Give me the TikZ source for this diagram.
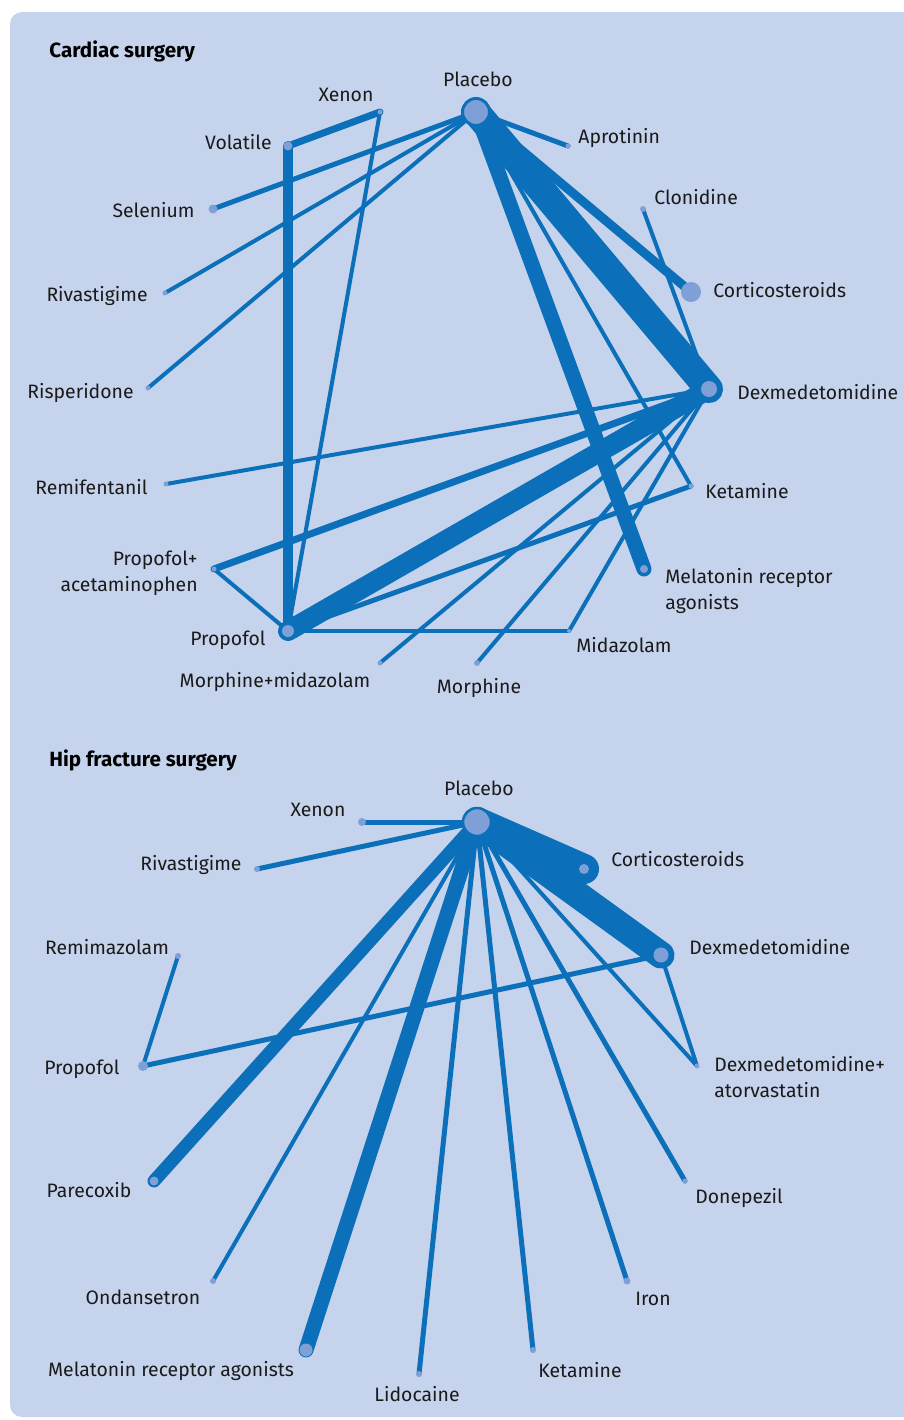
\documentclass[tikz,border=0pt]{standalone}
\usepackage{fontspec}
\setmainfont{Fira Sans}
\definecolor{bgblue}{HTML}{C6D3EC}
\definecolor{lineblue}{HTML}{0B70B9}
\definecolor{nodeblue}{HTML}{7FA0D6}
\definecolor{txt}{HTML}{1A1A1A}
\begin{document}
\begin{tikzpicture}[x=0.5pt,y=-0.5pt,
  lnk/.style={draw=lineblue,line cap=round,line width=#1*0.5pt},
  dot/.style={circle,fill=nodeblue,inner sep=0pt,minimum size=#1*1pt},
  ring/.style={draw=lineblue,line width=#1*0.5pt},
  lbl/.style={font=\fontsize{9.7pt}{13pt}\selectfont,inner sep=0pt,text=txt,yshift=-1pt},
  ttl/.style={font=\fontsize{10.3pt}{12pt}\selectfont\bfseries,inner sep=0pt,text=black,yshift=-1pt}]
\useasboundingbox (0,0) rectangle (904,1420);
\clip (0,0) rectangle (904,1420);
\fill[bgblue,rounded corners=6pt] (10,12) rectangle (940,1417);

% ---------------- Cardiac surgery ----------------
\node[ttl,anchor=mid west] (t1) at (49,50) {Cardiac surgery};

\coordinate (cPla) at (476,112);
\coordinate (cXen) at (380,112);
\coordinate (cVol) at (288,146);
\coordinate (cApr) at (568,146);
\coordinate (cSel) at (213,209);
\coordinate (cRiv) at (165,293);
\coordinate (cRis) at (148,388);
\coordinate (cClo) at (643,209);
\coordinate (cCor) at (691,292);
\coordinate (cDex) at (709,389);
\coordinate (cRem) at (166,484);
\coordinate (cKet) at (691,486);
\coordinate (cPA)  at (214,569);
\coordinate (cMel) at (644,569);
\coordinate (cPro) at (288,631);
\coordinate (cMid) at (569,631);
\coordinate (cMM)  at (380,663);
\coordinate (cMor) at (477,663);

\draw[lnk=7]  (cVol) -- (cXen);
\draw[lnk=4]  (cXen) -- (cPro);
\draw[lnk=10] (cVol) -- (cPro);
\draw[lnk=5]  (cPla) -- (cSel);
\draw[lnk=4]  (cPla) -- (cRiv);
\draw[lnk=4]  (cPla) -- (cRis);
\draw[lnk=5]  (cPla) -- (cApr);
\draw[lnk=9]  (cPla) -- (cCor);
\draw[lnk=28] (cPla) -- (cDex);
\draw[lnk=15] (cPla) -- (cMel);
\draw[lnk=4]  (cPla) -- (cKet);
\draw[lnk=4]  (cClo) -- (cDex);
\draw[lnk=4]  (cDex) -- (cRem);
\draw[lnk=7]  (cDex) -- (cPA);
\draw[lnk=20] (cDex) -- (cPro);
\draw[lnk=4] (cDex) -- (cMid);
\draw[lnk=4] (cDex) -- (cMor);
\draw[lnk=4] (cDex) -- (cMM);
\draw[lnk=5]  (cKet) -- (cPro);
\draw[lnk=4]  (cPA) -- (cPro);
\draw[lnk=4]  (cPro) -- (cMid);

\node[dot=13.5,ring=3] (nPla) at (cPla) {};
\node[dot=2.5] (nXen) at (cXen) {};
\node[dot=4.5] (nVol) at (cVol) {};
\node[dot=2.5] (nApr) at (cApr) {};
\node[dot=4.5] (nSel) at (cSel) {};
\node[dot=2.5] (nRiv) at (cRiv) {};
\node[dot=2.5] (nRis) at (cRis) {};
\node[dot=3]   (nClo) at (cClo) {};
\node[dot=10]  (nCor) at (cCor) {};
\node[dot=8]   (nDex) at (cDex) {};
\node[dot=2.5] (nRem) at (cRem) {};
\node[dot=2.5] (nKet) at (cKet) {};
\node[dot=2.5] (nPA)  at (cPA) {};
\node[dot=4]   (nMel) at (cMel) {};
\node[dot=6]   (nPro) at (cPro) {};
\node[dot=2]   (nMid) at (cMid) {};
\node[dot=2.5] (nMM)  at (cMM) {};
\node[dot=3]   (nMor) at (cMor) {};

\node[lbl,anchor=mid] (lPla) at (478,79) {Placebo};
\node[lbl,anchor=mid] (lXen) at (346,94) {Xenon};
\node[lbl,anchor=mid east] (lVol) at (272,142) {Volatile};
\node[lbl,anchor=mid west] (lApr) at (578,136) {Aprotinin};
\node[lbl,anchor=mid east] (lSel) at (195,210) {Selenium};
\node[lbl,anchor=mid west] (lClo) at (654,197) {Clonidine};
\node[lbl,anchor=mid east] (lRiv) at (148,294) {Rivastigime};
\node[lbl,anchor=mid west] (lCor) at (713,290) {Corticosteroids};
\node[lbl,anchor=mid east] (lRis) at (134,391) {Risperidone};
\node[lbl,anchor=mid west] (lDex) at (737,392) {Dexmedetomidine};
\node[lbl,anchor=mid east] (lRem) at (148,487) {Remifentanil};
\node[lbl,anchor=mid west] (lKet) at (705,491) {Ketamine};
\node[lbl,anchor=east,align=right] (lPA) at (198,571) {Propofol+\\acetaminophen};
\node[lbl,anchor=west,align=left] (lMel) at (665,589) {Melatonin receptor\\agonists};
\node[lbl,anchor=mid east] (lPro) at (266,638) {Propofol};
\node[lbl,anchor=mid west] (lMid) at (576,645) {Midazolam};
\node[lbl,anchor=mid] (lMM) at (275,680) {Morphine+midazolam};
\node[lbl,anchor=mid] (lMor) at (479,686) {Morphine};

% ---------------- Hip fracture surgery ----------------
\node[ttl,anchor=mid west] (t2) at (49,759) {Hip fracture surgery};

\coordinate (hPla)  at (477,822);
\coordinate (hXen)  at (362,822);
\coordinate (hRiv)  at (257,869);
\coordinate (hCor)  at (584,869);
\coordinate (hDex)  at (661,955);
\coordinate (hRemi) at (178,956);
\coordinate (hPro)  at (143,1066);
\coordinate (hDA)   at (697,1066);
\coordinate (hPar)  at (154,1181);
\coordinate (hDon)  at (685,1181);
\coordinate (hOnd)  at (213,1281);
\coordinate (hIron) at (627,1281);
\coordinate (hMel)  at (306,1350);
\coordinate (hKet)  at (533,1350);
\coordinate (hLid)  at (419,1374);

\draw[lnk=5]  (hPla) -- (hXen);
\draw[lnk=5]  (hPla) -- (hRiv);
\draw[lnk=30] (hPla) -- (hCor);
\draw[lnk=27] (hPla) -- (hDex);
\draw[lnk=4]  (hPla) -- (hDA);
\draw[lnk=4]  (hDex) -- (hDA);
\draw[lnk=5]  (hDex) -- (hPro);
\draw[lnk=4]  (hPro) -- (hRemi);
\draw[lnk=13] (hPla) -- (hPar);
\draw[lnk=4]  (hPla) -- (hOnd);
\draw[lnk=15] (hPla) -- (hMel);
\draw[lnk=5]  (hPla) -- (hLid);
\draw[lnk=5]  (hPla) -- (hKet);
\draw[lnk=5]  (hPla) -- (hIron);
\draw[lnk=5]  (hPla) -- (hDon);

\node[dot=14,ring=2.5] (mPla) at (hPla) {};
\node[dot=4]   (mXen)  at (hXen) {};
\node[dot=3]   (mRiv)  at (hRiv) {};
\node[dot=5]   (mCor)  at (hCor) {};
\node[dot=7.5] (mDex)  at (hDex) {};
\node[dot=3]   (mRemi) at (hRemi) {};
\node[dot=5]   (mPro)  at (hPro) {};
\node[dot=2.5] (mDA)   at (hDA) {};
\node[dot=4.5] (mPar)  at (hPar) {};
\node[dot=2.5] (mDon)  at (hDon) {};
\node[dot=3]   (mOnd)  at (hOnd) {};
\node[dot=3.5] (mIron) at (hIron) {};
\node[dot=6.5] (mMel)  at (hMel) {};
\node[dot=3]   (mKet)  at (hKet) {};
\node[dot=3]   (mLid)  at (hLid) {};

\node[lbl,anchor=mid] (kPla) at (479,788) {Placebo};
\node[lbl,anchor=mid] (kXen) at (318,809) {Xenon};
\node[lbl,anchor=mid] (kRiv) at (191,863) {Rivastigime};
\node[lbl,anchor=mid west] (kCor) at (611,859) {Corticosteroids};
\node[lbl,anchor=mid] (kRemi) at (107,947) {Remimazolam};
\node[lbl,anchor=mid west] (kDex) at (689,947) {Dexmedetomidine};
\node[lbl,anchor=mid] (kPro) at (82,1067) {Propofol};
\node[lbl,anchor=west,align=left] (kDA) at (714,1075) {Dexmedetomidine+\\atorvastatin};
\node[lbl,anchor=mid] (kPar) at (89,1190) {Parecoxib};
\node[lbl,anchor=mid] (kDon) at (739,1196) {Donepezil};
\node[lbl,anchor=mid] (kOnd) at (143,1297) {Ondansetron};
\node[lbl,anchor=mid] (kIron) at (653,1298) {Iron};
\node[lbl,anchor=mid] (kMel) at (171,1369) {Melatonin receptor agonists};
\node[lbl,anchor=mid] (kKet) at (580,1370) {Ketamine};
\node[lbl,anchor=mid] (kLid) at (417,1394) {Lidocaine};
\end{tikzpicture}
\end{document}
